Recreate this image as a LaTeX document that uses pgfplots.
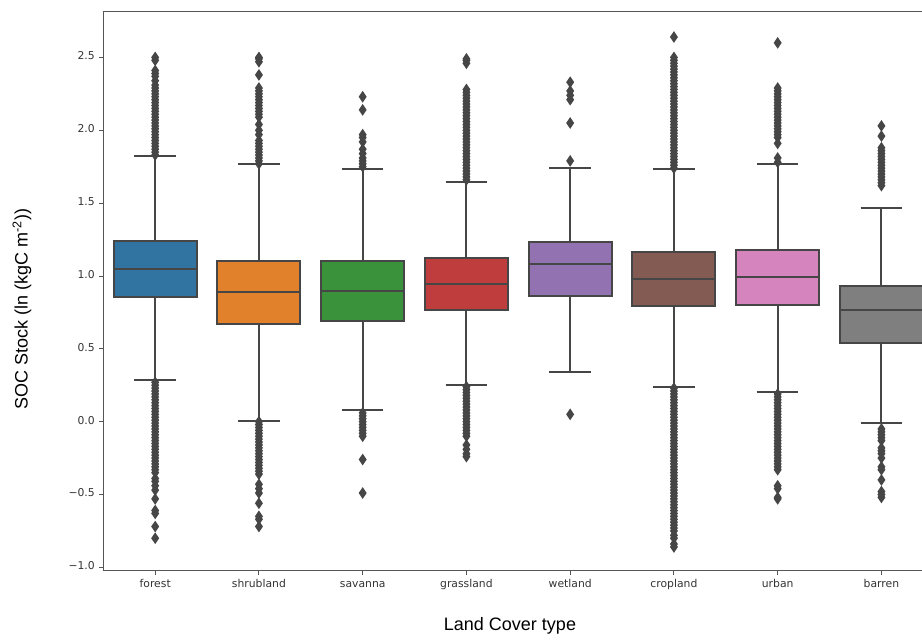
\documentclass[border=0pt]{standalone}
\usepackage{fontspec}
\setmainfont{Liberation Sans}
\newfontfamily\tickfont{DejaVu Sans}
\usepackage{pgfplots}
\pgfplotsset{compat=1.18}
\usepgfplotslibrary{statistics}
\definecolor{c1}{HTML}{3274A1}
\definecolor{c2}{HTML}{E1812C}
\definecolor{c3}{HTML}{3A923A}
\definecolor{c4}{HTML}{C03D3E}
\definecolor{c5}{HTML}{9372B2}
\definecolor{c6}{HTML}{845B53}
\definecolor{c7}{HTML}{D684BD}
\definecolor{c8}{HTML}{7F7F7F}
\definecolor{linec}{HTML}{464646}
\definecolor{spinec}{HTML}{555555}
\definecolor{tickc}{HTML}{333333}
\pgfplotsset{
  sbox/.style={draw=linec, line width=1.9bp, solid,
    boxplot/draw direction=y,
    boxplot/every whisker/.style={draw=linec, line width=1.9bp},
    boxplot/every median/.style={draw=linec, line width=1.9bp},
    boxplot/every box/.style={draw=linec, line width=1.9bp},
    mark=diamond*, mark size=4.2bp, mark options={fill=linec, draw=none, xscale=0.9}},
}
\begin{document}
\begin{tikzpicture}[x=1bp,y=1bp]
\useasboundingbox (0,0) rectangle (922,640);
\begin{axis}[
  at={(103.3bp,69.3bp)}, anchor=south west,
  scale only axis, width=830bp, height=559bp,
  xmin=-0.5, xmax=7.5, ymin=-1.023, ymax=2.814,
  axis line style={spinec, line width=1.1bp},
  xtick={0,1,2,3,4,5,6,7},
  xticklabels={forest,shrubland,savanna,grassland,wetland,cropland,urban,barren},
  ytick={-1,-0.5,0,0.5,1,1.5,2,2.5},
  yticklabels={−1.0,−0.5,0.0,0.5,1.0,1.5,2.0,2.5},
  xtick pos=bottom, ytick pos=left,
  tick align=outside, major tick length=4bp,
  tick style={spinec, line width=0.9bp},
  ticklabel style={font=\tickfont\fontsize{10.8bp}{12bp}\selectfont, text=tickc},
  typeset ticklabels with strut,
  xticklabel style={yshift=-1bp},
  yticklabel style={xshift=-1bp},
  clip=false,
]
\addplot[sbox, fill=c1, boxplot prepared={draw position=0, lower whisker=0.284, lower quartile=0.858, median=1.046, upper quartile=1.242, upper whisker=1.824, box extend=0.8, whisker extend=0.4}]
table[row sep=\\, y index=0]{y\\ 1.83\\ 1.85\\ 1.87\\ 1.89\\ 1.91\\ 1.93\\ 1.95\\ 1.97\\ 1.99\\ 2.01\\ 2.03\\ 2.05\\ 2.07\\ 2.09\\ 2.11\\ 2.13\\ 2.15\\ 2.17\\ 2.19\\ 2.21\\ 2.23\\ 2.25\\ 2.27\\ 2.29\\ 2.31\\ 2.34\\ 2.37\\ 2.39\\ 2.41\\ 2.48\\ 2.50\\
0.27\\ 0.25\\ 0.23\\ 0.21\\ 0.19\\ 0.17\\ 0.15\\ 0.13\\ 0.11\\ 0.09\\ 0.07\\ 0.05\\ 0.03\\ 0.01\\ -0.01\\ -0.03\\ -0.05\\ -0.07\\ -0.09\\ -0.11\\ -0.13\\ -0.15\\ -0.17\\ -0.19\\ -0.21\\ -0.23\\ -0.25\\ -0.27\\ -0.29\\ -0.31\\ -0.33\\ -0.35\\ -0.39\\ -0.41\\ -0.44\\ -0.47\\ -0.53\\ -0.61\\ -0.63\\ -0.72\\ -0.80\\};
\addplot[sbox, fill=c2, boxplot prepared={draw position=1, lower whisker=0.007, lower quartile=0.671, median=0.888, upper quartile=1.105, upper whisker=1.767, box extend=0.8, whisker extend=0.4}]
table[row sep=\\, y index=0]{y\\ 1.77\\ 1.79\\ 1.81\\ 1.83\\ 1.85\\ 1.87\\ 1.89\\ 1.91\\ 1.93\\ 1.97\\ 2.00\\ 2.04\\ 2.09\\ 2.11\\ 2.13\\ 2.15\\ 2.17\\ 2.19\\ 2.21\\ 2.23\\ 2.25\\ 2.27\\ 2.29\\ 2.38\\ 2.47\\ 2.49\\ 2.50\\
0.00\\ -0.02\\ -0.04\\ -0.06\\ -0.08\\ -0.10\\ -0.12\\ -0.14\\ -0.16\\ -0.18\\ -0.20\\ -0.22\\ -0.24\\ -0.26\\ -0.28\\ -0.30\\ -0.32\\ -0.34\\ -0.36\\ -0.43\\ -0.46\\ -0.49\\ -0.56\\ -0.65\\ -0.67\\ -0.72\\};
\addplot[sbox, fill=c3, boxplot prepared={draw position=2, lower whisker=0.080, lower quartile=0.691, median=0.897, upper quartile=1.105, upper whisker=1.734, box extend=0.8, whisker extend=0.4}]
table[row sep=\\, y index=0]{y\\ 1.75\\ 1.77\\ 1.79\\ 1.81\\ 1.84\\ 1.87\\ 1.92\\ 1.95\\ 1.97\\ 2.14\\ 2.23\\
0.06\\ 0.04\\ 0.02\\ 0.00\\ -0.02\\ -0.04\\ -0.06\\ -0.08\\ -0.10\\ -0.26\\ -0.49\\};
\addplot[sbox, fill=c4, boxplot prepared={draw position=3, lower whisker=0.252, lower quartile=0.767, median=0.943, upper quartile=1.121, upper whisker=1.647, box extend=0.8, whisker extend=0.4}]
table[row sep=\\, y index=0]{y\\ 1.66\\ 1.68\\ 1.70\\ 1.72\\ 1.74\\ 1.76\\ 1.78\\ 1.80\\ 1.82\\ 1.84\\ 1.86\\ 1.88\\ 1.90\\ 1.92\\ 1.94\\ 1.96\\ 1.98\\ 2.00\\ 2.02\\ 2.04\\ 2.06\\ 2.08\\ 2.10\\ 2.12\\ 2.14\\ 2.16\\ 2.18\\ 2.20\\ 2.22\\ 2.24\\ 2.26\\ 2.28\\ 2.46\\ 2.48\\ 2.49\\
0.24\\ 0.22\\ 0.20\\ 0.18\\ 0.16\\ 0.14\\ 0.12\\ 0.10\\ 0.08\\ 0.06\\ 0.04\\ 0.02\\ 0.00\\ -0.02\\ -0.04\\ -0.06\\ -0.08\\ -0.10\\ -0.16\\ -0.19\\ -0.22\\ -0.24\\};
\addplot[sbox, fill=c5, boxplot prepared={draw position=4, lower whisker=0.339, lower quartile=0.865, median=1.085, upper quartile=1.231, upper whisker=1.743, box extend=0.8, whisker extend=0.4}]
table[row sep=\\, y index=0]{y\\ 1.79\\ 2.05\\ 2.21\\ 2.24\\ 2.27\\ 2.33\\ 0.05\\};
\addplot[sbox, fill=c6, boxplot prepared={draw position=5, lower whisker=0.236, lower quartile=0.794, median=0.981, upper quartile=1.167, upper whisker=1.734, box extend=0.8, whisker extend=0.4}]
table[row sep=\\, y index=0]{y\\ 1.74\\ 1.76\\ 1.78\\ 1.80\\ 1.82\\ 1.84\\ 1.86\\ 1.88\\ 1.90\\ 1.92\\ 1.94\\ 1.96\\ 1.98\\ 2.00\\ 2.02\\ 2.04\\ 2.06\\ 2.08\\ 2.10\\ 2.12\\ 2.14\\ 2.16\\ 2.18\\ 2.20\\ 2.22\\ 2.24\\ 2.26\\ 2.28\\ 2.30\\ 2.32\\ 2.34\\ 2.36\\ 2.38\\ 2.40\\ 2.42\\ 2.44\\ 2.46\\ 2.48\\ 2.50\\ 2.64\\
0.23\\ 0.21\\ 0.19\\ 0.17\\ 0.15\\ 0.13\\ 0.11\\ 0.09\\ 0.07\\ 0.05\\ 0.03\\ 0.01\\ -0.01\\ -0.03\\ -0.05\\ -0.07\\ -0.09\\ -0.11\\ -0.13\\ -0.15\\ -0.17\\ -0.19\\ -0.21\\ -0.23\\ -0.25\\ -0.27\\ -0.29\\ -0.31\\ -0.33\\ -0.35\\ -0.37\\ -0.39\\ -0.41\\ -0.43\\ -0.45\\ -0.47\\ -0.49\\ -0.51\\ -0.53\\ -0.55\\ -0.57\\ -0.59\\ -0.61\\ -0.63\\ -0.65\\ -0.67\\ -0.69\\ -0.71\\ -0.73\\ -0.75\\ -0.78\\ -0.80\\ -0.84\\ -0.86\\};
\addplot[sbox, fill=c7, boxplot prepared={draw position=6, lower whisker=0.206, lower quartile=0.799, median=0.991, upper quartile=1.178, upper whisker=1.767, box extend=0.8, whisker extend=0.4}]
table[row sep=\\, y index=0]{y\\ 1.78\\ 1.81\\ 1.91\\ 1.95\\ 1.97\\ 1.99\\ 2.01\\ 2.03\\ 2.05\\ 2.07\\ 2.09\\ 2.11\\ 2.13\\ 2.15\\ 2.17\\ 2.19\\ 2.21\\ 2.23\\ 2.25\\ 2.27\\ 2.29\\ 2.60\\
0.19\\ 0.17\\ 0.15\\ 0.13\\ 0.11\\ 0.09\\ 0.07\\ 0.05\\ 0.03\\ 0.01\\ -0.01\\ -0.03\\ -0.05\\ -0.07\\ -0.09\\ -0.11\\ -0.13\\ -0.15\\ -0.17\\ -0.19\\ -0.21\\ -0.23\\ -0.25\\ -0.27\\ -0.29\\ -0.31\\ -0.33\\ -0.44\\ -0.46\\ -0.52\\ -0.53\\};
\addplot[sbox, fill=c8, boxplot prepared={draw position=7, lower whisker=-0.007, lower quartile=0.542, median=0.769, upper quartile=0.933, upper whisker=1.469, box extend=0.8, whisker extend=0.4}]
table[row sep=\\, y index=0]{y\\ 1.62\\ 1.64\\ 1.66\\ 1.68\\ 1.70\\ 1.72\\ 1.74\\ 1.76\\ 1.78\\ 1.80\\ 1.82\\ 1.84\\ 1.86\\ 1.88\\ 1.96\\ 2.03\\
-0.05\\ -0.07\\ -0.09\\ -0.11\\ -0.13\\ -0.18\\ -0.20\\ -0.22\\ -0.25\\ -0.31\\ -0.33\\ -0.40\\ -0.48\\ -0.50\\ -0.52\\};
\end{axis}
\node[rotate=90, font=\fontsize{18bp}{21bp}\selectfont] at (22,331) {SOC Stock (ln (kgC m\textsuperscript{-2}))};
\node[font=\fontsize{18bp}{21bp}\selectfont] at (510,14) {Land Cover type};
\end{tikzpicture}
\end{document}
